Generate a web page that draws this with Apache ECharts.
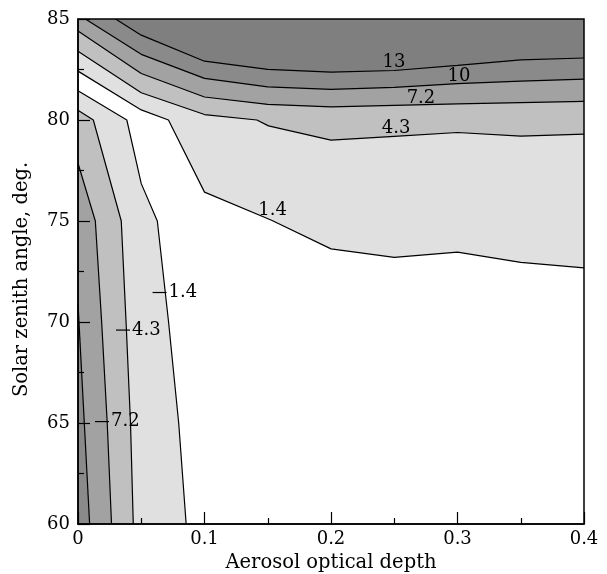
<!DOCTYPE html>
<html><head><meta charset="utf-8">
<script src="https://cdn.jsdelivr.net/npm/echarts@6/dist/echarts.min.js"></script>
<style>html,body{margin:0;padding:0;background:#fff}#c{width:607px;height:574px}</style>
</head><body><div id="c"></div>
<script>
// Contour levels
const levels = [1.4, 4.3, 7.2, 10, 13];

// Upper contour lines (x = aerosol optical depth, y = solar zenith angle)
const L13 = [[0.0297,85],[0.05,84.2],[0.1,82.91],[0.15,82.51],[0.2,82.37],[0.25,82.45],[0.3,82.7],[0.35,82.98],[0.4,83.07]];
const L10 = [[0.0058,85],[0.05,83.25],[0.1,82.06],[0.15,81.64],[0.2,81.52],[0.25,81.62],[0.3,81.8],[0.35,81.92],[0.4,82.02]];
const L7  = [[0,84.4],[0.05,82.3],[0.1,81.14],[0.15,80.77],[0.2,80.65],[0.25,80.72],[0.3,80.8],[0.35,80.86],[0.4,80.92]];
const L4  = [[0,83.4],[0.05,81.35],[0.1,80.27],[0.1414,80.0],[0.1506,79.71],[0.2,79.0],[0.25,79.19],[0.3,79.38],[0.35,79.2],[0.4,79.3]];
const L1  = [[0,82.42],[0.05,80.5],[0.0715,80.0],[0.1,76.43],[0.153,75.04],[0.2,73.62],[0.25,73.2],[0.3,73.46],[0.35,72.95],[0.4,72.68]];

// Left-side contour lines
const L1left  = [[0,81.45],[0.0386,80],[0.05,76.85],[0.0627,75],[0.0716,70],[0.0796,65],[0.0855,60]];
const L4left  = [[0,80.48],[0.0121,80],[0.0342,75],[0.038,70],[0.0415,65],[0.0437,60]];
const L7left  = [[0,77.86],[0.0137,75],[0.0187,70],[0.0231,65],[0.0265,60]];
const L10left = [[0,70.92],[0.0092,60]];

// Contour labels
const topLabelPos  = [[0.2498,82.85],[0.3012,82.15],[0.2711,81.06],[0.2514,79.6],[0.1538,75.54]];
const topLabelText = ['13','10','7.2','4.3','1.4'];
const leftLabelPos  = [[0.0708,71.46],[0.0419,69.6],[0.0253,65.07]];
const leftLabelText = ['1.4','4.3','7.2'];

// Axis ticks
const xTicks = [0, 0.1, 0.2, 0.3, 0.4];
const xTickLabels = ['0','0.1','0.2','0.3','0.4'];
const yTicks = [60, 65, 70, 75, 80, 85];
const yTickLabels = ['60','65','70','75','80','85'];

const xMin = xTicks[0], xMax = xTicks[xTicks.length-1];
const yMin = yTicks[0], yMax = yTicks[yTicks.length-1];

const fillColors = {c1:'#e0e0e0', c4:'#c0c0c0', c7:'#a2a2a2', c10:'#8a8a8a', c13:'#7f7f7f'};
const FONT = '"DejaVu Serif", "Liberation Serif", serif';

// Build fill polygons (painted from lightest to darkest)
const polys = [
  {pts: L1.concat([[xMax,yMax],[xMin,yMax]]), color: fillColors.c1},
  {pts: L1left.concat([[xMin,yMin]]), color: fillColors.c1},
  {pts: L4.concat([[xMax,yMax],[xMin,yMax]]), color: fillColors.c4},
  {pts: L4left.concat([[xMin,yMin]]), color: fillColors.c4},
  {pts: L7.concat([[xMax,yMax],[xMin,yMax]]), color: fillColors.c7},
  {pts: L7left.concat([[xMin,yMin]]), color: fillColors.c7},
  {pts: L10.concat([[xMax,yMax]]), color: fillColors.c10},
  {pts: L10left.concat([[xMin,yMin]]), color: fillColors.c10},
  {pts: L13.concat([[xMax,yMax]]), color: fillColors.c13}
];

const series = [];
polys.forEach((pg, i) => {
  series.push({
    type:'custom', coordinateSystem:'cartesian2d', silent:true, animation:false,
    z: 1 + i*0.01,
    data:[[0.2,70]],
    renderItem: (params, api) => ({
      type:'polygon',
      shape:{points: pg.pts.map(p => api.coord(p))},
      style:{fill: pg.color, stroke: null, lineWidth: 0}
    })
  });
});

[L13, L10, L7, L4, L1, L1left, L4left, L7left, L10left].forEach(L => {
  series.push({
    type:'line', data:L, showSymbol:false, symbol:'none', silent:true, animation:false, z:3,
    lineStyle:{color:'#000', width:1.2}
  });
});

series.push({
  type:'custom', coordinateSystem:'cartesian2d', silent:true, animation:false, z:4,
  data: topLabelPos,
  renderItem: (params, api) => {
    const p = api.coord([api.value(0), api.value(1)]);
    return {type:'text', x:p[0], y:p[1],
      style:{text: topLabelText[params.dataIndex], font:'18px ' + FONT, fill:'#000', align:'center', verticalAlign:'middle'}};
  }
});
series.push({
  type:'custom', coordinateSystem:'cartesian2d', silent:true, animation:false, z:4,
  data: leftLabelPos,
  renderItem: (params, api) => {
    const p = api.coord([api.value(0), api.value(1)]);
    return {type:'group', children:[
      {type:'line', shape:{x1:p[0]-15, y1:p[1], x2:p[0]-1, y2:p[1]}, style:{stroke:'#000', lineWidth:1.2}},
      {type:'text', x:p[0]+1, y:p[1],
        style:{text: leftLabelText[params.dataIndex], font:'18px ' + FONT, fill:'#000', align:'left', verticalAlign:'middle'}}
    ]};
  }
});

const chart = echarts.init(document.getElementById('c'), null, {renderer:'canvas'});
chart.setOption({
  backgroundColor:'#fff',
  animation:false,
  grid:{left:78, right:23, top:19, bottom:50, containLabel:false, outerBoundsMode:'none',
    show:true, backgroundColor:'transparent', borderColor:'#000', borderWidth:1.5, z:10},
  xAxis:{
    type:'value', min:xMin, max:xMax, interval:0.1, z:10,
    axisLine:{show:true, onZero:false, lineStyle:{color:'#000', width:1.5}},
    axisTick:{show:true, inside:true, length:12, lineStyle:{color:'#000', width:1.2}},
    minorTick:{show:true, splitNumber:2, length:6, lineStyle:{color:'#000', width:1.2}},
    splitLine:{show:false}, minorSplitLine:{show:false},
    axisLabel:{color:'#000', fontFamily:FONT, fontSize:18, margin:6,
      formatter: v => { const i = xTicks.findIndex(t => Math.abs(t - v) < 1e-9); return i >= 0 ? xTickLabels[i] : ''; }},
    name:'Aerosol optical depth', nameLocation:'middle', nameGap:29,
    nameTextStyle:{color:'#000', fontFamily:FONT, fontSize:19.5}
  },
  yAxis:{
    type:'value', min:yMin, max:yMax, interval:5, z:10,
    axisLine:{show:true, onZero:false, lineStyle:{color:'#000', width:1.5}},
    axisTick:{show:true, inside:true, length:12, lineStyle:{color:'#000', width:1.2}},
    minorTick:{show:true, splitNumber:2, length:6, lineStyle:{color:'#000', width:1.2}},
    splitLine:{show:false}, minorSplitLine:{show:false},
    axisLabel:{color:'#000', fontFamily:FONT, fontSize:18, margin:8,
      formatter: v => { const i = yTicks.indexOf(v); return i >= 0 ? yTickLabels[i] : ''; }},
    name:'Solar zenith angle, deg.', nameLocation:'middle', nameGap:46, nameRotate:90,
    nameTextStyle:{color:'#000', fontFamily:FONT, fontSize:19.5, padding:[0,16,0,0]}
  },
  series: series
});
</script>
</body></html>
